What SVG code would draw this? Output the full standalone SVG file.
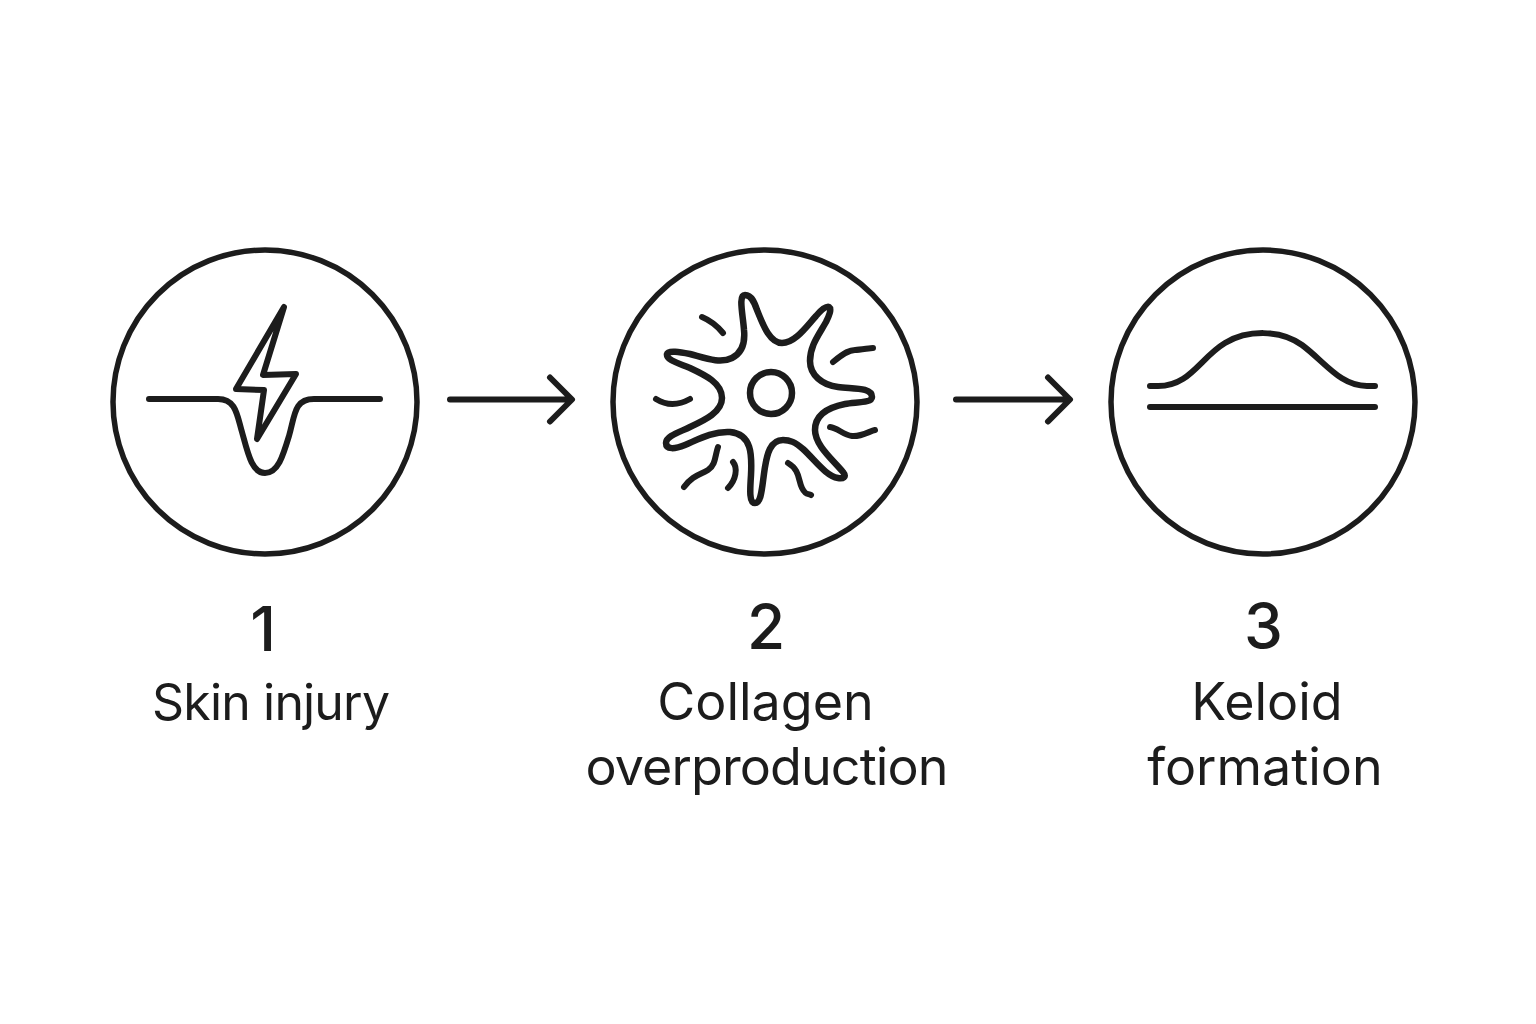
<svg xmlns="http://www.w3.org/2000/svg" width="1536" height="1024" viewBox="0 0 1536 1024">
<style>
.l{fill:none;stroke:#1c1c1c;stroke-width:6;stroke-linecap:round;stroke-linejoin:round}
.b{stroke-width:6.5}
.c{fill:none;stroke:#1c1c1c;stroke-width:5.5}
.t{font-family:"Inter","Liberation Sans",sans-serif;font-size:52px;fill:#1c1c1c;text-anchor:middle}
.n{font-family:"Inter","Liberation Sans",sans-serif;font-size:62px;font-weight:500;fill:#1c1c1c;text-anchor:middle}
</style>
<rect width="1536" height="1024" fill="#fff"/>
<g id="node1">
<circle class="c" cx="265" cy="402" r="152"/>
<path class="l" d="M284 307L263 375L296 374L257 439L264 390L236 389Z"/>
<path class="l" d="M149 399H218C236 399 237 415 242 432C248 454 252 473 265 473C278 473 283 456 289 436C295 415 294 399 314 399H380"/>
<text class="n" x="263" y="651">1</text>
<text class="t" x="271" y="720" style="font-size:50px" textLength="238">Skin injury</text>
</g>
<g id="node2">
<circle class="c" cx="765" cy="402" r="152"/>
<circle class="l b" cx="771" cy="393" r="21"/>
<path class="l b" d="M745 295C752 295 755 304 757 310C762 322 769 343 782 343C795 343 806 327 816 316C822 309 826 306 829 307C832 309 829 316 826 322C818 336 810 346 810 361C810 375 822 385 838 387C852 389 872 387 872 397C872 403 856 402 845 404C830 407 815 414 815 430C815 445 832 459 843 472C847 477 843 479 838 478C826 476 815 460 803 449C795 442 790 440 783 440C770 440 767 455 765 467C762 485 762 503 755 503C749 503 750 490 751 475C752 455 752 434 730 432C712 431 697 440 685 445C675 449 666 450 666 443C666 436 680 432 690 427C705 420 722 412 722 398C722 383 705 375 690 368C678 363 666 360 667 354C668 350 680 352 690 354C705 358 720 364 732 358C744 352 745 340 744 330C743 315 738 295 745 295Z"/>
<path class="l" d="M702 317Q714 322 723 333"/>
<path class="l" d="M656 399Q672 409 690 399"/>
<path class="l" d="M833 362C845 352 850 350 855 350S870 348 873 348"/>
<path class="l" d="M830 427C838 428 843 435 852 436S870 431 875 430"/>
<path class="l" d="M718 447C715 455 716 465 708 470S693 475 684 487"/>
<path class="l" d="M733 462C738 468 736 480 728 488"/>
<path class="l" d="M788 463C800 470 798 480 802 488S808 493 811 495"/>
<text class="n" x="766" y="649">2</text>
<text class="t" x="765.500" y="720">Collagen</text>
<text class="t" x="767" y="785" textLength="363">overproduction</text>
</g>
<g id="node3">
<circle class="c" cx="1263" cy="402" r="152"/>
<path class="l" d="M1150 386H1158C1190 386 1200 358 1225 343C1247 330 1280 329 1302 345C1325 362 1340 386 1367 386H1375"/>
<path class="l" d="M1150 407H1375"/>
<text class="n" x="1263.500" y="648">3</text>
<text class="t" x="1267" y="720">Keloid</text>
<text class="t" x="1265" y="785">formation</text>
</g>
<g id="connectors">
<path class="l" d="M450 399.500H571M550 377.500L572 399.500L550 421.500"/>
<path class="l" d="M956 399.500H1069M1048 377.500L1070 399.500L1048 421.500"/>
</g>
</svg>
